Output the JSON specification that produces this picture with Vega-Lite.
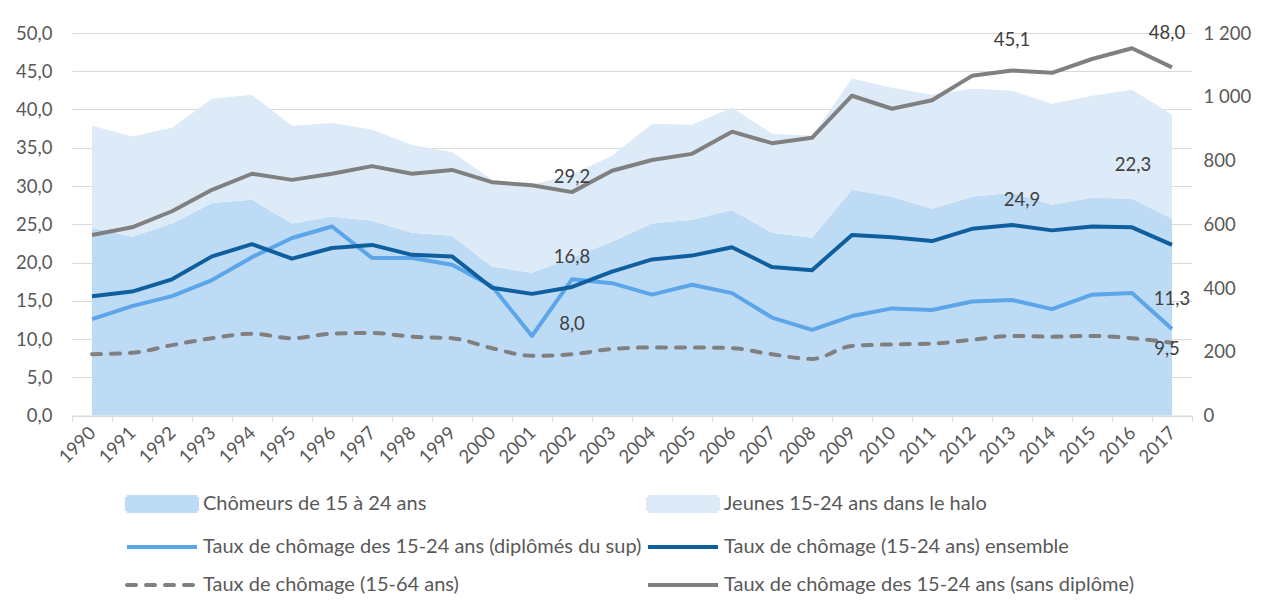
{
 "$schema": "https://vega.github.io/schema/vega-lite/v6.json",
 "width": 1120,
 "height": 382.5,
 "autosize": {"type": "none"},
 "padding": {"left": 72, "top": 33, "right": 78, "bottom": 199.5},
 "background": "white",
 "config": {
  "font": "Lato",
  "view": {"stroke": null},
  "locale": {"number": {"decimal": ",", "thousands": " ", "grouping": [3], "currency": ["", " €"]}},
  "axis": {"labelFont": "Lato", "labelFontSize": 18.5, "labelColor": "#595959", "title": null}
 },
 "datasets": {
  "effectifs": [
   {"year":1990,"series":"Chômeurs de 15 à 24 ans","value":589},{"year":1991,"series":"Chômeurs de 15 à 24 ans","value":561},{"year":1992,"series":"Chômeurs de 15 à 24 ans","value":602},{"year":1993,"series":"Chômeurs de 15 à 24 ans","value":667},{"year":1994,"series":"Chômeurs de 15 à 24 ans","value":677},{"year":1995,"series":"Chômeurs de 15 à 24 ans","value":602},{"year":1996,"series":"Chômeurs de 15 à 24 ans","value":624},{"year":1997,"series":"Chômeurs de 15 à 24 ans","value":611},{"year":1998,"series":"Chômeurs de 15 à 24 ans","value":573},{"year":1999,"series":"Chômeurs de 15 à 24 ans","value":564},{"year":2000,"series":"Chômeurs de 15 à 24 ans","value":467},{"year":2001,"series":"Chômeurs de 15 à 24 ans","value":448},{"year":2002,"series":"Chômeurs de 15 à 24 ans","value":495},{"year":2003,"series":"Chômeurs de 15 à 24 ans","value":545},{"year":2004,"series":"Chômeurs de 15 à 24 ans","value":602},{"year":2005,"series":"Chômeurs de 15 à 24 ans","value":614},{"year":2006,"series":"Chômeurs de 15 à 24 ans","value":645},{"year":2007,"series":"Chômeurs de 15 à 24 ans","value":573},{"year":2008,"series":"Chômeurs de 15 à 24 ans","value":558},{"year":2009,"series":"Chômeurs de 15 à 24 ans","value":708},{"year":2010,"series":"Chômeurs de 15 à 24 ans","value":686},{"year":2011,"series":"Chômeurs de 15 à 24 ans","value":649},{"year":2012,"series":"Chômeurs de 15 à 24 ans","value":686},{"year":2013,"series":"Chômeurs de 15 à 24 ans","value":699},{"year":2014,"series":"Chômeurs de 15 à 24 ans","value":661},{"year":2015,"series":"Chômeurs de 15 à 24 ans","value":683},{"year":2016,"series":"Chômeurs de 15 à 24 ans","value":680},{"year":2017,"series":"Chômeurs de 15 à 24 ans","value":617},
   {"year":1990,"series":"Jeunes 15-24 ans dans le halo","value":320},{"year":1991,"series":"Jeunes 15-24 ans dans le halo","value":314},{"year":1992,"series":"Jeunes 15-24 ans dans le halo","value":301},{"year":1993,"series":"Jeunes 15-24 ans dans le halo","value":327},{"year":1994,"series":"Jeunes 15-24 ans dans le halo","value":329},{"year":1995,"series":"Jeunes 15-24 ans dans le halo","value":307},{"year":1996,"series":"Jeunes 15-24 ans dans le halo","value":294},{"year":1997,"series":"Jeunes 15-24 ans dans le halo","value":286},{"year":1998,"series":"Jeunes 15-24 ans dans le halo","value":276},{"year":1999,"series":"Jeunes 15-24 ans dans le halo","value":263},{"year":2000,"series":"Jeunes 15-24 ans dans le halo","value":273},{"year":2001,"series":"Jeunes 15-24 ans dans le halo","value":277},{"year":2002,"series":"Jeunes 15-24 ans dans le halo","value":261},{"year":2003,"series":"Jeunes 15-24 ans dans le halo","value":270},{"year":2004,"series":"Jeunes 15-24 ans dans le halo","value":313},{"year":2005,"series":"Jeunes 15-24 ans dans le halo","value":298},{"year":2006,"series":"Jeunes 15-24 ans dans le halo","value":321},{"year":2007,"series":"Jeunes 15-24 ans dans le halo","value":311},{"year":2008,"series":"Jeunes 15-24 ans dans le halo","value":320},{"year":2009,"series":"Jeunes 15-24 ans dans le halo","value":349},{"year":2010,"series":"Jeunes 15-24 ans dans le halo","value":342},{"year":2011,"series":"Jeunes 15-24 ans dans le halo","value":357},{"year":2012,"series":"Jeunes 15-24 ans dans le halo","value":339},{"year":2013,"series":"Jeunes 15-24 ans dans le halo","value":320},{"year":2014,"series":"Jeunes 15-24 ans dans le halo","value":317},{"year":2015,"series":"Jeunes 15-24 ans dans le halo","value":320},{"year":2016,"series":"Jeunes 15-24 ans dans le halo","value":342},{"year":2017,"series":"Jeunes 15-24 ans dans le halo","value":327}
  ],
  "taux": [
   {"year":1990,"series":"Taux de chômage des 15-24 ans (diplômés du sup)","value":12.6},{"year":1991,"series":"Taux de chômage des 15-24 ans (diplômés du sup)","value":14.3},{"year":1992,"series":"Taux de chômage des 15-24 ans (diplômés du sup)","value":15.6},{"year":1993,"series":"Taux de chômage des 15-24 ans (diplômés du sup)","value":17.7},{"year":1994,"series":"Taux de chômage des 15-24 ans (diplômés du sup)","value":20.7},{"year":1995,"series":"Taux de chômage des 15-24 ans (diplômés du sup)","value":23.2},{"year":1996,"series":"Taux de chômage des 15-24 ans (diplômés du sup)","value":24.7},{"year":1997,"series":"Taux de chômage des 15-24 ans (diplômés du sup)","value":20.6},{"year":1998,"series":"Taux de chômage des 15-24 ans (diplômés du sup)","value":20.6},{"year":1999,"series":"Taux de chômage des 15-24 ans (diplômés du sup)","value":19.7},{"year":2000,"series":"Taux de chômage des 15-24 ans (diplômés du sup)","value":16.9},{"year":2001,"series":"Taux de chômage des 15-24 ans (diplômés du sup)","value":10.4},{"year":2002,"series":"Taux de chômage des 15-24 ans (diplômés du sup)","value":17.8},{"year":2003,"series":"Taux de chômage des 15-24 ans (diplômés du sup)","value":17.3},{"year":2004,"series":"Taux de chômage des 15-24 ans (diplômés du sup)","value":15.8},{"year":2005,"series":"Taux de chômage des 15-24 ans (diplômés du sup)","value":17.1},{"year":2006,"series":"Taux de chômage des 15-24 ans (diplômés du sup)","value":16.0},{"year":2007,"series":"Taux de chômage des 15-24 ans (diplômés du sup)","value":12.8},{"year":2008,"series":"Taux de chômage des 15-24 ans (diplômés du sup)","value":11.2},{"year":2009,"series":"Taux de chômage des 15-24 ans (diplômés du sup)","value":13.0},{"year":2010,"series":"Taux de chômage des 15-24 ans (diplômés du sup)","value":14.0},{"year":2011,"series":"Taux de chômage des 15-24 ans (diplômés du sup)","value":13.8},{"year":2012,"series":"Taux de chômage des 15-24 ans (diplômés du sup)","value":14.9},{"year":2013,"series":"Taux de chômage des 15-24 ans (diplômés du sup)","value":15.1},{"year":2014,"series":"Taux de chômage des 15-24 ans (diplômés du sup)","value":13.9},{"year":2015,"series":"Taux de chômage des 15-24 ans (diplômés du sup)","value":15.8},{"year":2016,"series":"Taux de chômage des 15-24 ans (diplômés du sup)","value":16.0},{"year":2017,"series":"Taux de chômage des 15-24 ans (diplômés du sup)","value":11.3},
   {"year":1990,"series":"Taux de chômage (15-24 ans) ensemble","value":15.6},{"year":1991,"series":"Taux de chômage (15-24 ans) ensemble","value":16.2},{"year":1992,"series":"Taux de chômage (15-24 ans) ensemble","value":17.8},{"year":1993,"series":"Taux de chômage (15-24 ans) ensemble","value":20.8},{"year":1994,"series":"Taux de chômage (15-24 ans) ensemble","value":22.4},{"year":1995,"series":"Taux de chômage (15-24 ans) ensemble","value":20.5},{"year":1996,"series":"Taux de chômage (15-24 ans) ensemble","value":21.9},{"year":1997,"series":"Taux de chômage (15-24 ans) ensemble","value":22.3},{"year":1998,"series":"Taux de chômage (15-24 ans) ensemble","value":21.0},{"year":1999,"series":"Taux de chômage (15-24 ans) ensemble","value":20.8},{"year":2000,"series":"Taux de chômage (15-24 ans) ensemble","value":16.7},{"year":2001,"series":"Taux de chômage (15-24 ans) ensemble","value":15.9},{"year":2002,"series":"Taux de chômage (15-24 ans) ensemble","value":16.8},{"year":2003,"series":"Taux de chômage (15-24 ans) ensemble","value":18.8},{"year":2004,"series":"Taux de chômage (15-24 ans) ensemble","value":20.4},{"year":2005,"series":"Taux de chômage (15-24 ans) ensemble","value":20.9},{"year":2006,"series":"Taux de chômage (15-24 ans) ensemble","value":22.0},{"year":2007,"series":"Taux de chômage (15-24 ans) ensemble","value":19.4},{"year":2008,"series":"Taux de chômage (15-24 ans) ensemble","value":19.0},{"year":2009,"series":"Taux de chômage (15-24 ans) ensemble","value":23.6},{"year":2010,"series":"Taux de chômage (15-24 ans) ensemble","value":23.3},{"year":2011,"series":"Taux de chômage (15-24 ans) ensemble","value":22.8},{"year":2012,"series":"Taux de chômage (15-24 ans) ensemble","value":24.4},{"year":2013,"series":"Taux de chômage (15-24 ans) ensemble","value":24.9},{"year":2014,"series":"Taux de chômage (15-24 ans) ensemble","value":24.2},{"year":2015,"series":"Taux de chômage (15-24 ans) ensemble","value":24.7},{"year":2016,"series":"Taux de chômage (15-24 ans) ensemble","value":24.6},{"year":2017,"series":"Taux de chômage (15-24 ans) ensemble","value":22.3},
   {"year":1990,"series":"Taux de chômage (15-64 ans)","value":8.0},{"year":1991,"series":"Taux de chômage (15-64 ans)","value":8.2},{"year":1992,"series":"Taux de chômage (15-64 ans)","value":9.2},{"year":1993,"series":"Taux de chômage (15-64 ans)","value":10.1},{"year":1994,"series":"Taux de chômage (15-64 ans)","value":10.7},{"year":1995,"series":"Taux de chômage (15-64 ans)","value":10.1},{"year":1996,"series":"Taux de chômage (15-64 ans)","value":10.7},{"year":1997,"series":"Taux de chômage (15-64 ans)","value":10.8},{"year":1998,"series":"Taux de chômage (15-64 ans)","value":10.3},{"year":1999,"series":"Taux de chômage (15-64 ans)","value":10.1},{"year":2000,"series":"Taux de chômage (15-64 ans)","value":8.8},{"year":2001,"series":"Taux de chômage (15-64 ans)","value":7.8},{"year":2002,"series":"Taux de chômage (15-64 ans)","value":8.0},{"year":2003,"series":"Taux de chômage (15-64 ans)","value":8.7},{"year":2004,"series":"Taux de chômage (15-64 ans)","value":8.9},{"year":2005,"series":"Taux de chômage (15-64 ans)","value":8.9},{"year":2006,"series":"Taux de chômage (15-64 ans)","value":8.8},{"year":2007,"series":"Taux de chômage (15-64 ans)","value":8.0},{"year":2008,"series":"Taux de chômage (15-64 ans)","value":7.4},{"year":2009,"series":"Taux de chômage (15-64 ans)","value":9.1},{"year":2010,"series":"Taux de chômage (15-64 ans)","value":9.3},{"year":2011,"series":"Taux de chômage (15-64 ans)","value":9.4},{"year":2012,"series":"Taux de chômage (15-64 ans)","value":9.9},{"year":2013,"series":"Taux de chômage (15-64 ans)","value":10.4},{"year":2014,"series":"Taux de chômage (15-64 ans)","value":10.3},{"year":2015,"series":"Taux de chômage (15-64 ans)","value":10.4},{"year":2016,"series":"Taux de chômage (15-64 ans)","value":10.1},{"year":2017,"series":"Taux de chômage (15-64 ans)","value":9.5},
   {"year":1990,"series":"Taux de chômage des 15-24 ans (sans diplôme)","value":23.6},{"year":1991,"series":"Taux de chômage des 15-24 ans (sans diplôme)","value":24.6},{"year":1992,"series":"Taux de chômage des 15-24 ans (sans diplôme)","value":26.7},{"year":1993,"series":"Taux de chômage des 15-24 ans (sans diplôme)","value":29.5},{"year":1994,"series":"Taux de chômage des 15-24 ans (sans diplôme)","value":31.6},{"year":1995,"series":"Taux de chômage des 15-24 ans (sans diplôme)","value":30.8},{"year":1996,"series":"Taux de chômage des 15-24 ans (sans diplôme)","value":31.6},{"year":1997,"series":"Taux de chômage des 15-24 ans (sans diplôme)","value":32.6},{"year":1998,"series":"Taux de chômage des 15-24 ans (sans diplôme)","value":31.6},{"year":1999,"series":"Taux de chômage des 15-24 ans (sans diplôme)","value":32.1},{"year":2000,"series":"Taux de chômage des 15-24 ans (sans diplôme)","value":30.5},{"year":2001,"series":"Taux de chômage des 15-24 ans (sans diplôme)","value":30.1},{"year":2002,"series":"Taux de chômage des 15-24 ans (sans diplôme)","value":29.2},{"year":2003,"series":"Taux de chômage des 15-24 ans (sans diplôme)","value":32.0},{"year":2004,"series":"Taux de chômage des 15-24 ans (sans diplôme)","value":33.4},{"year":2005,"series":"Taux de chômage des 15-24 ans (sans diplôme)","value":34.2},{"year":2006,"series":"Taux de chômage des 15-24 ans (sans diplôme)","value":37.1},{"year":2007,"series":"Taux de chômage des 15-24 ans (sans diplôme)","value":35.6},{"year":2008,"series":"Taux de chômage des 15-24 ans (sans diplôme)","value":36.3},{"year":2009,"series":"Taux de chômage des 15-24 ans (sans diplôme)","value":41.8},{"year":2010,"series":"Taux de chômage des 15-24 ans (sans diplôme)","value":40.1},{"year":2011,"series":"Taux de chômage des 15-24 ans (sans diplôme)","value":41.2},{"year":2012,"series":"Taux de chômage des 15-24 ans (sans diplôme)","value":44.4},{"year":2013,"series":"Taux de chômage des 15-24 ans (sans diplôme)","value":45.1},{"year":2014,"series":"Taux de chômage des 15-24 ans (sans diplôme)","value":44.8},{"year":2015,"series":"Taux de chômage des 15-24 ans (sans diplôme)","value":46.6},{"year":2016,"series":"Taux de chômage des 15-24 ans (sans diplôme)","value":48.0},{"year":2017,"series":"Taux de chômage des 15-24 ans (sans diplôme)","value":45.5}
  ]
 },
 "layer": [
  {
   "data": {"name": "effectifs"},
   "mark": {"type": "area", "opacity": 1},
   "encoding": {
    "x": {"field": "year", "type": "quantitative",
     "scale": {"domain": [1989.5, 2017.5], "nice": false, "zero": false},
     "axis": {"orient": "bottom", "values": [1989.5,1990.5,1991.5,1992.5,1993.5,1994.5,1995.5,1996.5,1997.5,1998.5,1999.5,2000.5,2001.5,2002.5,2003.5,2004.5,2005.5,2006.5,2007.5,2008.5,2009.5,2010.5,2011.5,2012.5,2013.5,2014.5,2015.5,2016.5,2017.5],
      "labels": false, "ticks": true, "tickSize": 6, "tickColor": "#D9D9D9", "tickWidth": 1, "domain": true, "domainColor": "#D9D9D9", "domainWidth": 1, "grid": false}},
    "y": {"field": "value", "type": "quantitative", "stack": "zero",
     "scale": {"domain": [0, 1200], "nice": false},
     "axis": {"orient": "right", "values": [0,200,400,600,800,1000,1200], "format": ",.0f", "grid": false, "domain": false, "ticks": false, "labelPadding": 11}},
    "color": {"field": "series", "type": "nominal",
     "scale": {"domain": ["Chômeurs de 15 à 24 ans", "Taux de chômage des 15-24 ans (diplômés du sup)", "Taux de chômage (15-64 ans)", "Jeunes 15-24 ans dans le halo", "Taux de chômage (15-24 ans) ensemble", "Taux de chômage des 15-24 ans (sans diplôme)"],
      "range": ["#BDDBF5", "#5BA5E8", "#808080", "#DDEBF9", "#0F5F9E", "#808080"]},
     "legend": {
      "orient": "none", "legendX": 78, "legendY": 459, "columns": 2, "title": null,
      "symbolSize": 400, "symbolStrokeWidth": 4, "labelOffset": 29, "rowPadding": 16, "columnPadding": -2,
      "labelFontSize": 20, "labelColor": "#595959", "labelLimit": 700, "labelFont": "Lato",
      "symbolType": "M-3.5,-0.7H3.5V0.7H-3.5Z",
      "encoding": {"symbols": {
       "shape": {"value": {"signal": "indexof(['Chômeurs de 15 à 24 ans','Jeunes 15-24 ans dans le halo'], datum.value) >= 0 ? 'M-3.5,-0.7H3.5V0.7H-3.5Z' : 'M-3.5,0H3.5'"}},
       "fill": {"value": {"signal": "indexof(['Chômeurs de 15 à 24 ans','Jeunes 15-24 ans dans le halo'], datum.value) >= 0 ? scale('color', datum.value) : 'transparent'"}},
       "stroke": {"value": {"signal": "indexof(['Chômeurs de 15 à 24 ans','Jeunes 15-24 ans dans le halo'], datum.value) >= 0 ? 'transparent' : scale('color', datum.value)"}},
       "strokeWidth": {"value": 4},
       "strokeDash": {"value": {"signal": "datum.value === 'Taux de chômage (15-64 ans)' ? [9, 10] : [1, 0]"}},
       "strokeCap": {"value": {"signal": "datum.value === 'Taux de chômage (15-64 ans)' ? 'round' : 'butt'"}},
       "opacity": {"value": 1}
      }}
     }},
    "order": {"field": "series", "sort": "ascending"}
   }
  },
  {
   "data": {"name": "taux"},
   "encoding": {
    "x": {"field": "year", "type": "quantitative",
     "axis": {"orient": "bottom", "values": [1990,1991,1992,1993,1994,1995,1996,1997,1998,1999,2000,2001,2002,2003,2004,2005,2006,2007,2008,2009,2010,2011,2012,2013,2014,2015,2016,2017],
      "format": "d", "ticks": false, "domain": false, "grid": false, "labelAngle": -45, "labelAlign": "right", "labelBaseline": "middle", "labelPadding": 14, "labelOverlap": false}},
    "y": {"field": "value", "type": "quantitative",
     "scale": {"domain": [0, 50], "nice": false},
     "axis": {"orient": "left", "values": [0,5,10,15,20,25,30,35,40,45,50], "format": ".1f", "grid": true, "gridColor": "#D9D9D9", "gridWidth": 1, "domain": false, "ticks": false, "labelPadding": 20}}
   },
   "layer": [
    {
     "transform": [{"filter": "datum.series !== 'Taux de chômage (15-64 ans)'"}],
     "mark": {"type": "line", "strokeWidth": 4, "strokeJoin": "round"},
     "encoding": {
      "color": {"field": "series", "type": "nominal", "legend": null}
     }
    },
    {
     "transform": [{"filter": "datum.series === 'Taux de chômage (15-64 ans)'"}],
     "mark": {"type": "line", "strokeWidth": 4, "strokeDash": [9, 10], "strokeCap": "round", "interpolate": "monotone"},
     "encoding": {
      "color": {"field": "series", "type": "nominal", "legend": null}
     }
    },
    {
     "transform": [{"filter": "(datum.year === 2002 && (datum.series === 'Taux de chômage (15-24 ans) ensemble' || datum.series === 'Taux de chômage (15-64 ans)')) || (datum.year === 2013 && datum.series === 'Taux de chômage des 15-24 ans (sans diplôme)') || (datum.year === 2017 && datum.series === 'Taux de chômage des 15-24 ans (diplômés du sup)')"}],
     "mark": {"type": "text", "dy": -30, "fontSize": 18.5, "font": "Lato", "color": "#404040"},
     "encoding": {"text": {"field": "value", "type": "quantitative", "format": ".1f"}}
    },
    {
     "transform": [{"filter": "datum.year === 2002 && datum.series === 'Taux de chômage des 15-24 ans (sans diplôme)'"}],
     "mark": {"type": "text", "dy": -15, "fontSize": 18.5, "font": "Lato", "color": "#404040"},
     "encoding": {"text": {"field": "value", "type": "quantitative", "format": ".1f"}}
    },
    {
     "transform": [{"filter": "datum.year === 2016 && datum.series === 'Taux de chômage des 15-24 ans (sans diplôme)'"}],
     "mark": {"type": "text", "dx": 35, "dy": -15, "fontSize": 18.5, "font": "Lato", "color": "#404040"},
     "encoding": {"text": {"field": "value", "type": "quantitative", "format": ".1f"}}
    },
    {
     "transform": [{"filter": "datum.year === 2013 && datum.series === 'Taux de chômage (15-24 ans) ensemble'"}],
     "mark": {"type": "text", "dx": 10, "dy": -25, "fontSize": 18.5, "font": "Lato", "color": "#404040"},
     "encoding": {"text": {"field": "value", "type": "quantitative", "format": ".1f"}}
    },
    {
     "transform": [{"filter": "datum.year === 2017 && datum.series === 'Taux de chômage (15-24 ans) ensemble'"}],
     "mark": {"type": "text", "dx": -39, "dy": -80, "fontSize": 18.5, "font": "Lato", "color": "#404040"},
     "encoding": {"text": {"field": "value", "type": "quantitative", "format": ".1f"}}
    },
    {
     "transform": [{"filter": "datum.year === 2017 && datum.series === 'Taux de chômage (15-64 ans)'"}],
     "mark": {"type": "text", "dx": -5, "dy": 6, "fontSize": 18.5, "font": "Lato", "color": "#404040"},
     "encoding": {"text": {"field": "value", "type": "quantitative", "format": ".1f"}}
    }
   ]
  }
 ],
 "resolve": {"scale": {"y": "independent"}, "axis": {"x": "independent"}}
}
